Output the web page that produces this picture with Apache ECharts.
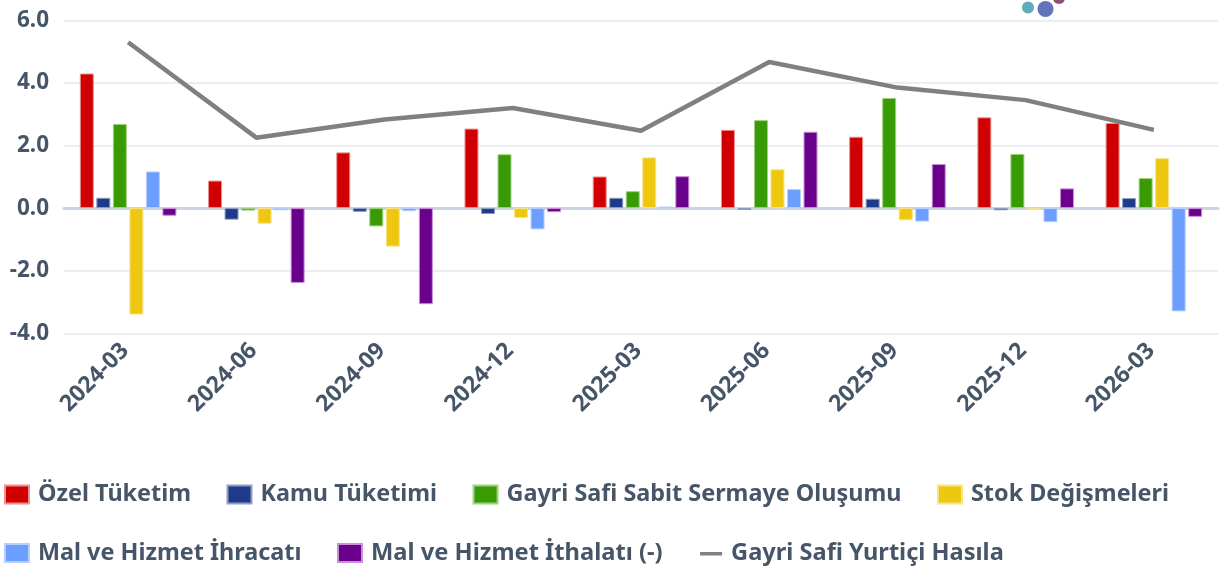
<!DOCTYPE html>
<html><head><meta charset="utf-8">
<style>html,body{margin:0;padding:0;background:#fff}#c{width:1228px;height:569px}</style>
<script src="https://cdn.jsdelivr.net/npm/echarts@6/dist/echarts.min.js"></script>
</head><body><div id="c"></div>
<script>
const categories = ['2024-03','2024-06','2024-09','2024-12','2025-03','2025-06','2025-09','2025-12','2026-03'];
const ozelTuketim = [4.3,0.88,1.78,2.54,1.01,2.5,2.28,2.9,2.72];
const kamuTuketimi = [0.33,-0.37,-0.12,-0.19,0.33,-0.06,0.3,-0.07,0.32];
const sabitSermaye = [2.69,-0.08,-0.585,1.72,0.54,2.81,3.52,1.73,0.96];
const stokDegisme = [-3.4,-0.5,-1.23,-0.32,1.62,1.24,-0.39,-0.06,1.595];
const ihracat = [1.17,-0.07,-0.1,-0.68,0.05,0.61,-0.43,-0.45,-3.3];
const ithalat = [-0.245,-2.39,-3.07,-0.13,1.02,2.44,1.41,0.63,-0.28];
const gsyh = [5.3,2.25,2.83,3.2,2.47,4.67,3.85,3.45,2.5];
const TEXT = '#475569';
const FONT = '"Noto Sans", sans-serif';
const bar = (name, data, color, edge) => ({name, type:'bar', data, barWidth:14, barGap:'18%',
  itemStyle:{color, borderColor:edge, borderWidth:1}, emphasis:{disabled:true}});
const chart = echarts.init(document.getElementById('c'), null, {renderer:'canvas'});
chart.setOption({
  animation:false,
  backgroundColor:'#fff',
  grid:{left:64, right:10, top:20.3, height:313, containLabel:false},
  legend:{left:-1, top:478, width:1225, itemGap:35.5, itemWidth:24, itemHeight:18,
    textStyle:{color:TEXT, fontFamily:FONT, fontSize:23.4, fontWeight:700, padding:[0,0,0,4]},
    data:[
      {name:'Özel Tüketim', icon:'rect'},{name:'Kamu Tüketimi', icon:'rect'},
      {name:'Gayri Safi Sabit Sermaye Oluşumu', icon:'rect'},{name:'Stok Değişmeleri', icon:'rect'},
      {name:'Mal ve Hizmet İhracatı', icon:'rect'},
      {name:'Mal ve Hizmet İthalatı (-)', icon:'rect', textStyle:{fontSize:23.7}},
      {name:'Gayri Safi Yurtiçi Hasıla', icon:'path://M0 0L24 0L24 0ZM2 8H24V11.5H2ZM0 18L24 18Z', textStyle:{fontSize:23.6}}
    ]},
  xAxis:{type:'category', data:categories,
    axisLine:{onZero:true, lineStyle:{color:'#cbd5e1', width:3}},
    axisTick:{show:false},
    axisLabel:{rotate:45, interval:0, color:TEXT, fontFamily:FONT, fontSize:23, fontWeight:700, margin:11, padding:[0,4,0,0]}},
  yAxis:{type:'value', min:-4, max:6, interval:2,
    axisLine:{show:false}, axisTick:{show:false},
    splitLine:{lineStyle:{color:'#e2e8f0', width:1.5}},
    axisLabel:{formatter:v=>v.toFixed(1), color:TEXT, fontFamily:FONT, fontSize:22.5, fontWeight:700, margin:15, padding:[0,0,4,0]}},
  series:[
    bar('Özel Tüketim', ozelTuketim, '#d00000', '#ee9090'),
    bar('Kamu Tüketimi', kamuTuketimi, '#1e3a8a', '#8e9dc4'),
    bar('Gayri Safi Sabit Sermaye Oluşumu', sabitSermaye, '#389a04', '#a0d080'),
    bar('Stok Değişmeleri', stokDegisme, '#eec710', '#f8e488'),
    bar('Mal ve Hizmet İhracatı', ihracat, '#6b9eff', '#b5cfff'),
    bar('Mal ve Hizmet İthalatı (-)', ithalat, '#6b008c', '#c890d8'),
    {name:'Gayri Safi Yurtiçi Hasıla', type:'line', data:gsyh, symbol:'none', z:5,
     itemStyle:{color:'#808080'}, lineStyle:{color:'#808080', width:4.5}, emphasis:{disabled:true}}
  ],
  graphic:[
    {type:'circle', shape:{cx:1028,cy:7.5,r:6}, style:{fill:'#63a9bc'}, silent:true},
    {type:'circle', shape:{cx:1045.5,cy:9,r:8}, style:{fill:'#6274bb'}, silent:true},
    {type:'circle', shape:{cx:1059,cy:-2,r:6}, style:{fill:'#8d4f73'}, silent:true}
  ]
});
</script></body></html>
